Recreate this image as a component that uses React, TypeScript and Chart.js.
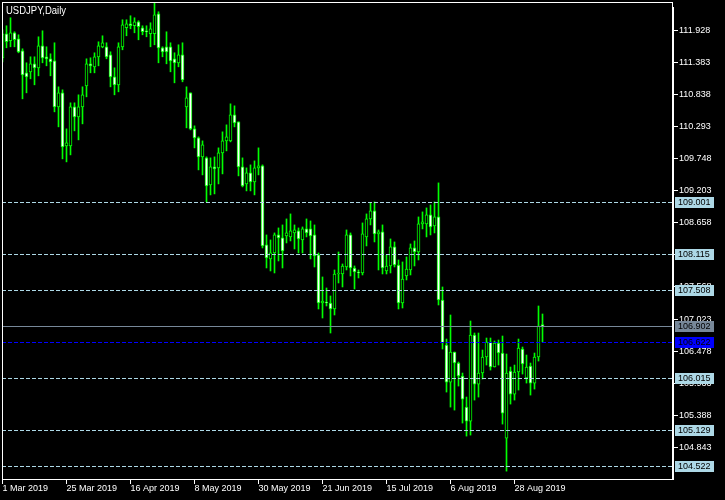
import React, { useEffect, useRef } from 'react';
import { Chart, registerables } from 'chart.js';

Chart.register(...registerables);

const chartTitle = 'USDJPY,Daily';

// Daily candles, 1 Mar 2019 .. 6 Sep 2019 (one entry per weekday)
const opens = [
  111.461, 111.869, 111.750, 111.886, 111.784, 111.580, 111.206, 111.223, 111.359, 111.291,
  111.665, 111.478, 111.444, 111.410, 110.628, 110.866, 109.965, 109.965, 110.628, 110.458,
  110.628, 110.985, 111.359, 111.308, 111.478, 111.648, 111.648, 111.512, 111.138, 111.002,
  111.648, 111.971, 112.039, 112.005, 112.073, 111.971, 111.920, 111.869, 111.869, 112.209,
  111.631, 111.648, 111.648, 111.444, 111.376, 111.512, 110.628, 110.866, 110.254, 110.101,
  109.778, 109.761, 109.302, 109.608, 109.591, 109.846, 110.050, 110.050, 110.492, 110.373,
  109.608, 109.319, 109.506, 109.353, 109.591, 109.625, 108.282, 108.044, 108.146, 108.452,
  108.401, 108.435, 108.418, 108.486, 108.520, 108.367, 108.554, 108.554, 108.452, 108.112,
  107.296, 107.313, 107.296, 107.194, 107.789, 107.789, 107.908, 108.452, 107.891, 107.823,
  107.806, 108.418, 108.724, 108.860, 108.469, 108.503, 107.840, 107.925, 108.248, 107.942,
  107.296, 107.755, 107.857, 108.231, 108.163, 108.639, 108.639, 108.792, 108.605, 108.758,
  107.347, 106.582, 105.953, 106.463, 106.276, 106.055, 105.528, 105.290, 106.752, 105.919,
  106.106, 106.378, 106.633, 106.208, 106.616, 106.446, 104.999, 106.140, 105.749, 106.123,
  106.514, 106.021, 106.225, 105.936, 106.378, 106.930,
];
const highs = [
  111.937, 112.005, 112.141, 111.903, 111.852, 111.614, 111.376, 111.478, 111.478, 111.818,
  111.920, 111.648, 111.529, 111.716, 110.968, 110.917, 110.254, 110.696, 110.696, 110.832,
  110.968, 111.444, 111.461, 111.546, 111.733, 111.835, 111.716, 111.563, 111.291, 111.716,
  112.107, 112.107, 112.175, 112.141, 112.090, 112.005, 112.005, 112.056, 112.396, 112.243,
  111.648, 111.903, 111.716, 111.546, 111.682, 111.716, 110.968, 110.866, 110.305, 110.118,
  110.050, 109.778, 109.761, 109.778, 109.931, 110.203, 110.322, 110.679, 110.645, 110.373,
  109.761, 109.591, 109.642, 109.710, 109.931, 109.642, 108.452, 108.367, 108.486, 108.571,
  108.622, 108.724, 108.809, 108.622, 108.571, 108.588, 108.724, 108.690, 108.622, 108.146,
  107.738, 107.551, 107.415, 107.857, 108.163, 107.959, 108.537, 108.486, 107.925, 107.857,
  108.656, 108.809, 108.996, 109.013, 108.537, 108.622, 108.112, 108.384, 108.333, 108.027,
  107.993, 108.078, 108.299, 108.350, 108.758, 108.843, 108.911, 108.962, 109.013, 109.336,
  107.568, 106.684, 107.092, 106.463, 106.293, 106.106, 105.698, 106.990, 106.786, 106.786,
  106.497, 106.701, 106.701, 106.650, 106.667, 106.735, 106.429, 106.208, 106.242, 106.684,
  106.548, 106.412, 106.276, 106.446, 107.245, 107.109,
];
const lows = [
  111.393, 111.631, 111.648, 111.648, 111.546, 110.764, 110.866, 111.104, 111.002, 111.155,
  111.376, 111.325, 111.155, 110.543, 110.288, 109.744, 109.693, 109.812, 110.220, 110.067,
  110.339, 110.798, 111.206, 111.206, 111.325, 111.631, 111.444, 110.968, 110.832, 110.883,
  111.597, 111.835, 111.954, 111.886, 111.767, 111.852, 111.818, 111.648, 111.682, 111.376,
  111.478, 111.359, 111.223, 111.036, 111.308, 111.053, 110.271, 110.237, 109.931, 109.557,
  109.472, 109.013, 109.132, 109.149, 109.319, 109.489, 109.880, 110.033, 110.288, 109.455,
  109.268, 109.200, 109.200, 109.132, 109.472, 108.231, 107.891, 107.840, 107.806, 108.010,
  107.891, 108.316, 108.350, 108.214, 108.146, 108.146, 108.418, 108.044, 107.908, 107.194,
  107.041, 107.245, 106.786, 107.092, 107.636, 107.568, 107.857, 107.755, 107.534, 107.721,
  107.772, 108.265, 108.622, 108.333, 107.857, 107.789, 107.789, 107.806, 107.908, 107.194,
  107.211, 107.687, 107.772, 107.925, 108.027, 108.554, 108.418, 108.452, 108.486, 107.262,
  106.514, 105.783, 105.528, 105.477, 105.885, 105.256, 105.035, 105.052, 105.647, 105.698,
  106.004, 106.242, 106.157, 106.208, 106.242, 105.239, 104.440, 105.579, 105.647, 105.817,
  106.089, 105.936, 105.732, 105.834, 106.310, 106.633,
];
const closes = [
  111.869, 111.733, 111.886, 111.767, 111.563, 111.172, 111.138, 111.359, 111.291, 111.665,
  111.461, 111.444, 111.393, 110.628, 110.866, 109.948, 110.016, 110.628, 110.458, 110.628,
  110.832, 111.359, 111.325, 111.478, 111.665, 111.716, 111.478, 111.138, 111.002, 111.648,
  112.022, 112.039, 112.005, 112.073, 111.988, 111.903, 111.903, 111.954, 112.192, 111.631,
  111.563, 111.563, 111.410, 111.376, 111.512, 111.087, 110.781, 110.254, 110.101, 109.778,
  109.982, 109.285, 109.608, 109.574, 109.846, 110.050, 110.118, 110.492, 110.356, 109.608,
  109.285, 109.506, 109.353, 109.591, 109.625, 108.265, 108.061, 108.146, 108.452, 108.401,
  108.180, 108.486, 108.520, 108.537, 108.384, 108.554, 108.486, 108.435, 108.095, 107.296,
  107.330, 107.296, 107.194, 107.789, 107.806, 107.925, 108.452, 107.891, 107.823, 107.806,
  108.469, 108.724, 108.860, 108.469, 108.503, 107.891, 107.925, 108.248, 107.942, 107.296,
  107.704, 107.874, 108.231, 108.163, 108.639, 108.673, 108.792, 108.588, 108.758, 107.347,
  106.616, 105.953, 106.463, 106.276, 106.055, 105.664, 105.290, 106.752, 105.919, 106.106,
  106.378, 106.633, 106.208, 106.616, 106.446, 105.426, 106.106, 105.749, 106.123, 106.531,
  106.259, 106.208, 105.936, 106.378, 106.903, 106.902,
];

const dateTickIndex = [0, 16, 32, 48, 64, 80, 96, 112, 128];
const dateTickLabels = [
  '1 Mar 2019', '25 Mar 2019', '16 Apr 2019', '8 May 2019', '30 May 2019',
  '21 Jun 2019', '15 Jul 2019', '6 Aug 2019', '28 Aug 2019',
];
const priceTicks = [
  111.928, 111.383, 110.838, 110.293, 109.748, 109.203, 108.658,
  108.113, 107.568, 107.023, 106.478, 105.933, 105.388, 104.843,
];
const levelLines = [109.001, 108.115, 107.508, 106.015, 105.129, 104.522];
const currentPrice = 106.902;
const pivotLine = 106.622;

const priceMin = 104.306;
const priceMax = 112.409;
const indexMin = -0.125;
const indexMax = 167.375;

const FONT = '"Liberation Sans", Arial, sans-serif';
const GREEN = '#00ff00';
const LIGHTBLUE = '#add8e6';
const SLATE = '#778899';
const BLUE = '#0000ff';

const overlayPlugin = {
  id: 'mt4Overlay',
  beforeDraw(chart: any) {
    const { ctx, width, height } = chart;
    ctx.save();
    ctx.fillStyle = '#000';
    ctx.fillRect(0, 0, width, height);
    ctx.restore();
  },
  afterDatasetsDraw(chart: any) {
    const { ctx, chartArea } = chart;
    const y = chart.scales.y;
    const row = (v: number) => Math.floor(y.getPixelForValue(v)) + 0.5;
    ctx.save();
    ctx.lineWidth = 1;
    ctx.setLineDash([4, 2]);
    ctx.strokeStyle = LIGHTBLUE;
    for (const lv of levelLines) {
      const py = row(lv);
      ctx.beginPath();
      ctx.moveTo(chartArea.left, py);
      ctx.lineTo(chartArea.right, py);
      ctx.stroke();
    }
    ctx.strokeStyle = BLUE;
    {
      const py = row(pivotLine);
      ctx.beginPath();
      ctx.moveTo(chartArea.left, py);
      ctx.lineTo(chartArea.right, py);
      ctx.stroke();
    }
    ctx.setLineDash([]);
    ctx.strokeStyle = SLATE;
    {
      const py = row(currentPrice);
      ctx.beginPath();
      ctx.moveTo(chartArea.left, py);
      ctx.lineTo(chartArea.right, py);
      ctx.stroke();
    }
    ctx.restore();
  },
  afterDraw(chart: any) {
    const { ctx, chartArea } = chart;
    const y = chart.scales.y;
    ctx.save();
    // frame
    ctx.fillStyle = '#ffffff';
    const L = Math.round(chartArea.left);
    const T = Math.round(chartArea.top);
    const R = Math.round(chartArea.right);
    const B = Math.round(chartArea.bottom);
    ctx.fillRect(L, T, R - L + 1, 1);
    ctx.fillRect(L, T, 1, B - T + 1);
    ctx.fillRect(L, B, R - L + 2, 1);
    ctx.fillRect(R, T, 1, 5);
    ctx.fillRect(R, T + 5, 2, B - T - 4);

    // title
    ctx.font = `10.5px ${FONT}`;
    ctx.textBaseline = 'alphabetic';
    ctx.textAlign = 'left';
    ctx.fillStyle = '#ffffff';
    ctx.fillText(chartTitle, 6, 13.5, 60);

    // price boxes
    const drawBox = (v: number, bg: string, fg: string) => {
      const r = Math.floor(y.getPixelForValue(v));
      ctx.fillStyle = bg;
      ctx.fillRect(R + 3, r - 5, 39, 11);
      ctx.fillStyle = fg;
      ctx.font = `9px ${FONT}`;
      ctx.textBaseline = 'middle';
      ctx.fillText(v.toFixed(3), R + 6, r + 0.5);
    };
    for (const lv of levelLines) drawBox(lv, LIGHTBLUE, '#000');
    drawBox(currentPrice, SLATE, '#000');
    drawBox(pivotLine, BLUE, '#000');
    ctx.restore();
  },
};

export default function App() {
  const ref = useRef<HTMLCanvasElement | null>(null);
  useEffect(() => {
    document.body.style.margin = '0';
    document.body.style.background = '#000';
    const canvas = ref.current!;
    const idx = opens.map((_, i) => i);
    const chart = new Chart(canvas, {
      type: 'bar',
      data: {
        datasets: [
          {
            label: 'body',
            data: idx.map((i) => ({ x: i, y: [opens[i], closes[i]] })) as any,
            backgroundColor: idx.map((i) => (closes[i] < opens[i] ? '#ffffff' : '#000000')),
            borderColor: GREEN,
            borderWidth: 1,
            borderSkipped: false,
            barThickness: 3,
            grouped: false,
            order: 0,
          } as any,
          {
            label: 'wick',
            data: idx.map((i) => ({ x: i, y: [lows[i], highs[i]] })) as any,
            backgroundColor: GREEN,
            borderWidth: 0,
            barThickness: 1,
            grouped: false,
            order: 1,
          } as any,
        ],
      },
      options: {
        responsive: false,
        animation: false,
        devicePixelRatio: 1,
        layout: { padding: { left: 2, top: 2, right: 0, bottom: 0 } },
        plugins: { legend: { display: false }, tooltip: { enabled: false }, title: { display: false } },
        scales: {
          x: {
            type: 'linear',
            position: 'bottom',
            min: indexMin,
            max: indexMax,
            offset: false,
            grid: { display: true, offset: false, drawOnChartArea: false, drawTicks: true, tickLength: 5, color: '#ffffff', lineWidth: 1 },
            border: { display: false },
            afterBuildTicks: (scale: any) => {
              scale.ticks = dateTickIndex.map((v) => ({ value: v }));
            },
            afterFit: (scale: any) => {
              scale.height = 21;
              scale.paddingLeft = 0;
              scale.paddingRight = 0;
            },
            ticks: {
              autoSkip: false,
              maxRotation: 0,
              minRotation: 0,
              align: 'start',
              padding: -1,
              color: '#ffffff',
              font: { family: FONT, size: 9 },
              callback: (_v: any, i: number) => dateTickLabels[i],
            },
          } as any,
          y: {
            type: 'linear',
            position: 'right',
            min: priceMin,
            max: priceMax,
            grid: { display: true, drawOnChartArea: false, drawTicks: true, tickLength: 6, color: '#ffffff', lineWidth: 1 },
            border: { display: false },
            afterBuildTicks: (scale: any) => {
              scale.ticks = priceTicks.map((v) => ({ value: v }));
            },
            afterFit: (scale: any) => {
              scale.width = 53;
              scale.paddingTop = 0;
              scale.paddingBottom = 0;
            },
            ticks: {
              autoSkip: false,
              padding: 1,
              color: '#ffffff',
              font: { family: FONT, size: 9 },
              callback: (v: any) => Number(v).toFixed(3),
            },
          } as any,
        },
      },
      plugins: [overlayPlugin],
    });
    return () => chart.destroy();
  }, []);
  return (
    <div style={{ position: 'fixed', left: 0, top: 0, width: 725, height: 500, background: '#000' }}>
      <canvas ref={ref} width={725} height={500} style={{ display: 'block', width: 725, height: 500 }} />
    </div>
  );
}
